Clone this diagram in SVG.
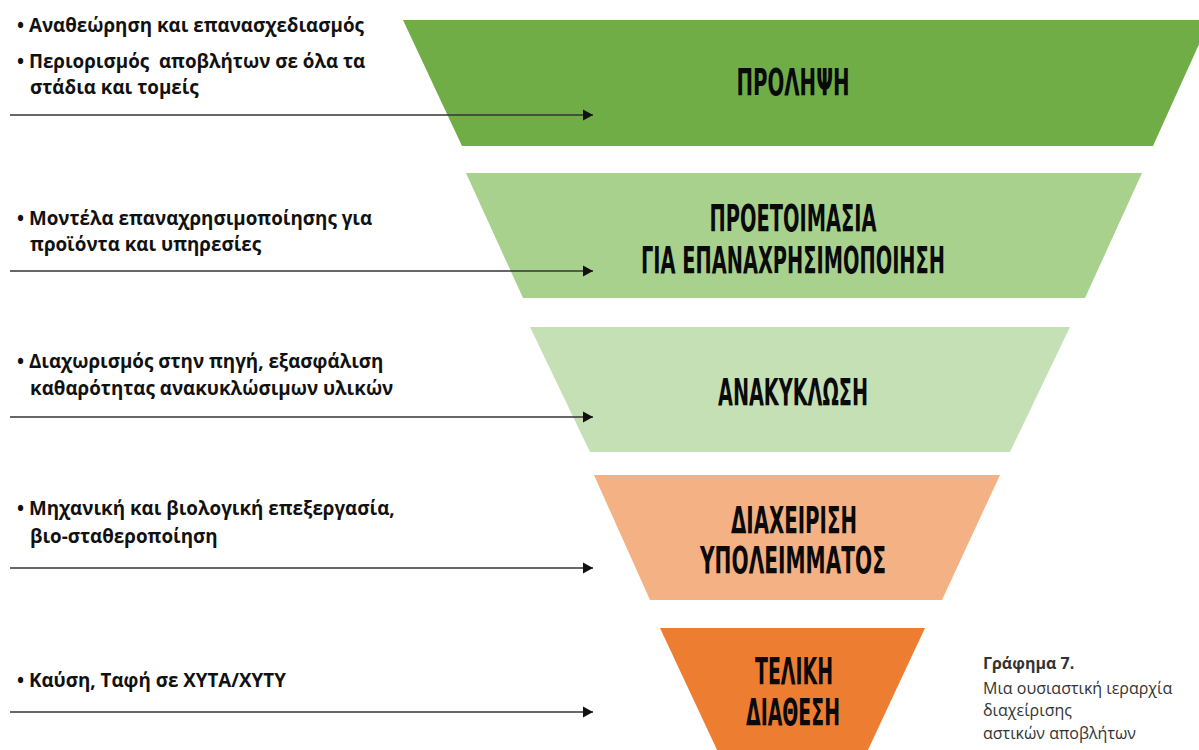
<svg xmlns="http://www.w3.org/2000/svg" width="1199" height="750" viewBox="0 0 1199 750">
<style>
.lt{font-family:"Open Sans","Noto Sans",sans-serif;font-weight:bold;font-size:18.8px;fill:#111}
.tt{font-family:"Liberation Sans Narrow","DejaVu Sans Condensed","Liberation Sans",sans-serif;font-weight:bold;font-size:38px;fill:#0a0a0a;text-anchor:middle}
.cap{font-family:"Open Sans","Noto Sans",sans-serif;font-size:16px;fill:#333}
.conn{stroke:#333;stroke-width:1.6;fill:none;marker-end:url(#ah)}
</style>
<defs>
<marker id="ah" markerUnits="userSpaceOnUse" markerWidth="12" markerHeight="12" refX="10" refY="6" orient="auto">
<path d="M0,0.5 L10,6 L0,11.5 Z" fill="#111"/>
</marker>
</defs>
<rect width="1199" height="750" fill="#fff"/>
<g id="t1">
<polygon points="403,20 1210,20 1153,146 462,146" fill="#70AD47"/>
<text class="tt" x="793" y="95" textLength="113" lengthAdjust="spacingAndGlyphs">ΠΡΟΛΗΨΗ</text>
</g>
<g id="t2">
<polygon points="466,173 1142,173 1085,298 523,298" fill="#A9D18E"/>
<text class="tt" x="793" y="231" textLength="167" lengthAdjust="spacingAndGlyphs">ΠΡΟΕΤΟΙΜΑΣΙΑ</text>
<text class="tt" x="793" y="273" textLength="304" lengthAdjust="spacingAndGlyphs">ΓΙΑ ΕΠΑΝΑΧΡΗΣΙΜΟΠΟΙΗΣΗ</text>
</g>
<g id="t3">
<polygon points="530,327 1070,327 1010,452 590,452" fill="#C5E0B4"/>
<text class="tt" x="793" y="405" textLength="150" lengthAdjust="spacingAndGlyphs">ΑΝΑΚΥΚΛΩΣΗ</text>
</g>
<g id="t4">
<polygon points="594,475 1000,475 942,600 650,600" fill="#F4B183"/>
<text class="tt" x="794" y="533" textLength="126" lengthAdjust="spacingAndGlyphs">ΔΙΑΧΕΙΡΙΣΗ</text>
<text class="tt" x="793" y="573" textLength="186" lengthAdjust="spacingAndGlyphs">ΥΠΟΛΕΙΜΜΑΤΟΣ</text>
</g>
<g id="t5">
<polygon points="660,628 925,628 867,752 718,752" fill="#ED7D31"/>
<text class="tt" x="794" y="684" textLength="78" lengthAdjust="spacingAndGlyphs">ΤΕΛΙΚΗ</text>
<text class="tt" x="793" y="725" textLength="94" lengthAdjust="spacingAndGlyphs">ΔΙΑΘΕΣΗ</text>
</g>
<g id="connectors">
<line class="conn" x1="10" y1="115" x2="593" y2="115"/>
<line class="conn" x1="10" y1="271" x2="593" y2="271"/>
<line class="conn" x1="10" y1="417" x2="593" y2="417"/>
<line class="conn" x1="10" y1="568" x2="593" y2="568"/>
<line class="conn" x1="10" y1="712" x2="593" y2="712"/>
</g>
<g id="labels">
<text class="lt" x="17" y="32">• Αναθεώρηση και επανασχεδιασμός</text>
<text class="lt" x="17" y="68">• Περιορισμός &#160;αποβλήτων σε όλα τα</text>
<text class="lt" x="30" y="94">στάδια και τομείς</text>
<text class="lt" x="17" y="225">• Μοντέλα επαναχρησιμοποίησης για</text>
<text class="lt" x="30" y="251">προϊόντα και υπηρεσίες</text>
<text class="lt" x="17" y="368">• Διαχωρισμός στην πηγή, εξασφάλιση</text>
<text class="lt" x="30" y="395">καθαρότητας ανακυκλώσιμων υλικών</text>
<text class="lt" x="17" y="515">• Μηχανική και βιολογική επεξεργασία,</text>
<text class="lt" x="30" y="543">βιο-σταθεροποίηση</text>
<text class="lt" x="17" y="687">• Καύση, Ταφή σε ΧΥΤΑ/ΧΥΤΥ</text>
</g>
<g id="caption">
<text class="cap" x="983" y="669" font-weight="bold" fill="#222">Γράφημα 7.</text>
<text class="cap" x="983" y="694">Μια ουσιαστική ιεραρχία</text>
<text class="cap" x="983" y="716">διαχείρισης</text>
<text class="cap" x="983" y="739">αστικών αποβλήτων</text>
</g>
</svg>
